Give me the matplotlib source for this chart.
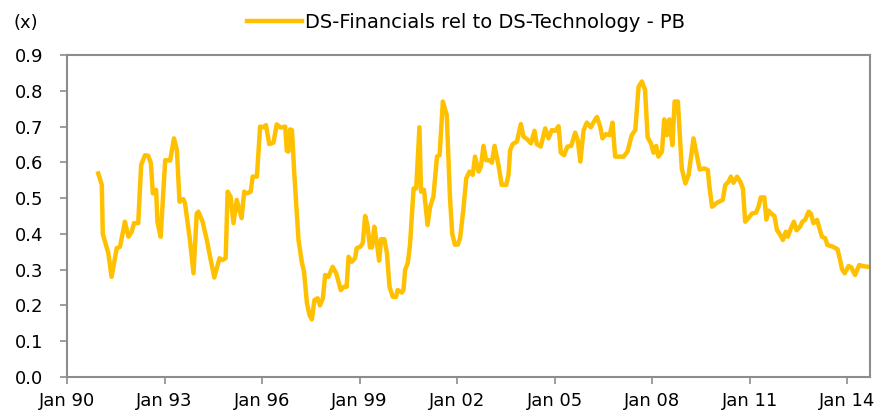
# pb_financials_vs_tech.py
import numpy as np                        # numpy: arrays
import matplotlib
matplotlib.use('Agg')
import matplotlib.pyplot as plt           # matplotlib: visualización

# --- Datos (fecha en años decimales) ---
dates = np.array([
    1990.96, 1991.07, 1991.10, 1991.27, 1991.37, 1991.53, 1991.63, 1991.78, 1991.89, 1991.99,
    1992.06, 1992.19, 1992.28, 1992.40, 1992.50, 1992.58, 1992.64, 1992.74, 1992.78, 1992.88,
    1993.02, 1993.17, 1993.29, 1993.38, 1993.46, 1993.58, 1993.63, 1993.78, 1993.89, 1993.99,
    1994.04, 1994.17, 1994.30, 1994.42, 1994.53, 1994.69, 1994.78, 1994.88, 1994.94, 1995.03,
    1995.12, 1995.22, 1995.37, 1995.45, 1995.53, 1995.65, 1995.71, 1995.84, 1995.94, 1996.04,
    1996.12, 1996.22, 1996.35, 1996.45, 1996.57, 1996.71, 1996.76, 1996.81, 1996.86, 1996.92,
    1996.99, 1997.12, 1997.22, 1997.29, 1997.38, 1997.46, 1997.53, 1997.61, 1997.71, 1997.78,
    1997.87, 1997.94, 1998.04, 1998.17, 1998.28, 1998.42, 1998.52, 1998.60, 1998.66, 1998.76,
    1998.86, 1998.91, 1999.02, 1999.10, 1999.17, 1999.24, 1999.32, 1999.38, 1999.45, 1999.53,
    1999.60, 1999.66, 1999.76, 1999.84, 1999.92, 2000.02, 2000.12, 2000.17, 2000.30, 2000.35,
    2000.40, 2000.48, 2000.55, 2000.66, 2000.74, 2000.84, 2000.89, 2000.98, 2001.09, 2001.17,
    2001.27, 2001.38, 2001.46, 2001.56, 2001.68, 2001.78, 2001.85, 2001.93, 2002.02, 2002.09,
    2002.19, 2002.28, 2002.38, 2002.48, 2002.55, 2002.66, 2002.73, 2002.81, 2002.89, 2002.99,
    2003.07, 2003.15, 2003.27, 2003.37, 2003.51, 2003.58, 2003.63, 2003.71, 2003.84, 2003.96,
    2004.04, 2004.16, 2004.27, 2004.38, 2004.45, 2004.57, 2004.71, 2004.81, 2004.91, 2005.02,
    2005.12, 2005.19, 2005.29, 2005.39, 2005.51, 2005.63, 2005.71, 2005.79, 2005.89, 2005.99,
    2006.11, 2006.19, 2006.30, 2006.40, 2006.47, 2006.58, 2006.69, 2006.78, 2006.86, 2007.02,
    2007.12, 2007.24, 2007.37, 2007.48, 2007.58, 2007.68, 2007.78, 2007.86, 2007.96, 2008.04,
    2008.12, 2008.19, 2008.30, 2008.37, 2008.45, 2008.53, 2008.62, 2008.69, 2008.79, 2008.84,
    2008.91, 2009.02, 2009.12, 2009.27, 2009.35, 2009.46, 2009.60, 2009.71, 2009.76, 2009.84,
    2009.99, 2010.17, 2010.25, 2010.35, 2010.42, 2010.50, 2010.61, 2010.71, 2010.79, 2010.86,
    2010.96, 2011.07, 2011.19, 2011.27, 2011.34, 2011.45, 2011.51, 2011.58, 2011.66, 2011.76,
    2011.84, 2011.94, 2012.02, 2012.11, 2012.17, 2012.27, 2012.36, 2012.44, 2012.55, 2012.62,
    2012.71, 2012.81, 2012.88, 2012.96, 2013.07, 2013.22, 2013.32, 2013.39, 2013.56, 2013.70,
    2013.78, 2013.84, 2013.92, 2014.04, 2014.12, 2014.24, 2014.37, 2014.47, 2014.65,
])

pb_rel = np.array([
    0.569, 0.537, 0.400, 0.346, 0.280, 0.360, 0.364, 0.434, 0.392, 0.406,
    0.430, 0.430, 0.593, 0.620, 0.618, 0.597, 0.513, 0.523, 0.434, 0.392,
    0.606, 0.605, 0.667, 0.634, 0.490, 0.497, 0.485, 0.383, 0.290, 0.457,
    0.462, 0.434, 0.383, 0.327, 0.278, 0.332, 0.327, 0.332, 0.518, 0.504,
    0.430, 0.495, 0.444, 0.518, 0.513, 0.518, 0.560, 0.560, 0.700, 0.698,
    0.704, 0.651, 0.655, 0.706, 0.697, 0.700, 0.632, 0.630, 0.692, 0.690,
    0.569, 0.383, 0.322, 0.294, 0.206, 0.173, 0.161, 0.215, 0.220, 0.200,
    0.220, 0.285, 0.280, 0.308, 0.290, 0.243, 0.252, 0.252, 0.336, 0.322,
    0.332, 0.360, 0.364, 0.375, 0.450, 0.425, 0.362, 0.362, 0.420, 0.374,
    0.325, 0.385, 0.385, 0.346, 0.252, 0.224, 0.224, 0.243, 0.236, 0.243,
    0.300, 0.318, 0.369, 0.527, 0.527, 0.698, 0.518, 0.523, 0.425, 0.476,
    0.504, 0.616, 0.620, 0.770, 0.732, 0.500, 0.400, 0.370, 0.370, 0.388,
    0.467, 0.555, 0.574, 0.565, 0.616, 0.574, 0.588, 0.646, 0.606, 0.606,
    0.599, 0.646, 0.593, 0.537, 0.537, 0.565, 0.634, 0.651, 0.658, 0.707,
    0.672, 0.664, 0.653, 0.688, 0.651, 0.644, 0.695, 0.667, 0.690, 0.688,
    0.701, 0.627, 0.620, 0.644, 0.646, 0.683, 0.662, 0.602, 0.690, 0.711,
    0.698, 0.711, 0.727, 0.700, 0.667, 0.679, 0.676, 0.711, 0.616, 0.616,
    0.616, 0.630, 0.676, 0.690, 0.811, 0.826, 0.803, 0.670, 0.653, 0.627,
    0.646, 0.616, 0.630, 0.720, 0.676, 0.720, 0.648, 0.770, 0.770, 0.690,
    0.583, 0.541, 0.565, 0.667, 0.630, 0.580, 0.583, 0.579, 0.532, 0.476,
    0.487, 0.495, 0.537, 0.546, 0.560, 0.543, 0.560, 0.546, 0.527, 0.434,
    0.444, 0.457, 0.459, 0.476, 0.502, 0.502, 0.440, 0.465, 0.457, 0.450,
    0.410, 0.397, 0.383, 0.406, 0.392, 0.416, 0.434, 0.410, 0.420, 0.434,
    0.440, 0.462, 0.457, 0.430, 0.439, 0.392, 0.388, 0.369, 0.364, 0.357,
    0.327, 0.301, 0.290, 0.310, 0.307, 0.285, 0.313, 0.310, 0.308,
])

tick_years = [1990, 1993, 1996, 1999, 2002, 2005, 2008, 2011, 2014]
tick_labels = ['Jan 90', 'Jan 93', 'Jan 96', 'Jan 99', 'Jan 02',
               'Jan 05', 'Jan 08', 'Jan 11', 'Jan 14']
series_name = 'DS-Financials rel to DS-Technology - PB'

# --- Estilo ---
plt.rcParams['font.family'] = ['DejaVu Sans']
plt.rcParams['font.size'] = 13
gold = '#FFC000'
grey = '#8C8C8C'

fig = plt.figure(figsize=(8.75, 4.12), dpi=100)
ax = fig.add_axes([0.0766, 0.085, 0.9177, 0.7815])

ax.plot(dates, pb_rel, color=gold, lw=3.2, solid_joinstyle='round',
        label=series_name)

ax.set_xlim(1990.0, 2014.7)
ax.set_ylim(0.0, 0.9)
ax.set_xticks(tick_years)
ax.set_xticklabels(tick_labels)
ax.set_yticks(np.arange(0.0, 0.91, 0.1))
ax.set_yticklabels([f'{v:.1f}' for v in np.arange(0.0, 0.91, 0.1)])

for sp in ax.spines.values():
    sp.set_color(grey)
    sp.set_linewidth(1.5)
ax.tick_params(axis='both', direction='out', length=5, width=1.2,
               color=grey, labelcolor='black')
ax.tick_params(axis='x', pad=6)
ax.tick_params(axis='y', pad=12)

# leyenda arriba, sin marco
ax.legend(loc='center', bbox_to_anchor=(0.497, 1.102), frameon=False,
          fontsize=14, handlelength=2.8, handletextpad=0.15, borderaxespad=0)
fig.text(0.03, 0.945, '(x)', ha='center', va='center')

fig.savefig('out.png', dpi=100)
